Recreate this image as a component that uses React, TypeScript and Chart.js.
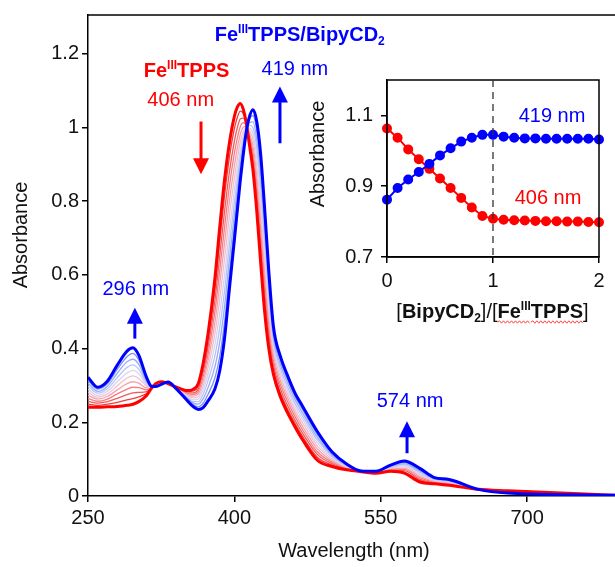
import React, { useEffect, useRef } from "react";
import { Chart, registerables } from "chart.js";
Chart.register(...registerables);

// ---------- Main spectra (absorbance vs wavelength) ----------
const WAVELENGTH = [
  250, 260, 270, 280, 290, 296, 302, 310, 315,
  320, 325, 332, 340, 352, 358, 363, 368, 373,
  380, 385, 390, 395, 400, 403, 406, 409, 412, 415,
  419, 423, 427, 431, 435, 440, 447, 454, 462, 470,
  485, 500, 515, 530, 545, 560, 574, 590, 605, 620,
  650, 680, 790,
];

// [BipyCD2]/[FeIIITPPS] = 0 (FeIIITPPS alone)
const SPEC_00 = [
  0.241, 0.241, 0.242, 0.243, 0.246, 0.249, 0.256, 0.273, 0.292,
  0.306, 0.310, 0.305, 0.296, 0.286, 0.290, 0.305, 0.360, 0.440,
  0.590, 0.730, 0.860, 0.960, 1.030, 1.055, 1.065, 1.050, 1.015, 0.960,
  0.885, 0.770, 0.630, 0.500, 0.405, 0.330, 0.270, 0.228, 0.188, 0.152,
  0.097, 0.080, 0.071, 0.066, 0.062, 0.067, 0.062, 0.038, 0.033, 0.029,
  0.018, 0.014, 0.002,
];
const SPEC_01 = [
  0.249, 0.246, 0.249, 0.254, 0.261, 0.264, 0.269, 0.278, 0.293,
  0.305, 0.309, 0.305, 0.296, 0.283, 0.285, 0.298, 0.348, 0.422,
  0.560, 0.691, 0.817, 0.921, 0.997, 1.027, 1.044, 1.038, 1.012, 0.967,
  0.901, 0.795, 0.660, 0.528, 0.427, 0.343, 0.281, 0.238, 0.197, 0.161,
  0.105, 0.084, 0.073, 0.066, 0.063, 0.069, 0.065, 0.042, 0.035, 0.031,
  0.018, 0.013, 0.002,
];
const SPEC_02 = [
  0.257, 0.252, 0.256, 0.265, 0.275, 0.280, 0.281, 0.283, 0.293,
  0.304, 0.309, 0.306, 0.295, 0.280, 0.280, 0.291, 0.336, 0.404,
  0.530, 0.652, 0.774, 0.881, 0.963, 0.999, 1.023, 1.025, 1.009, 0.973,
  0.918, 0.819, 0.689, 0.556, 0.448, 0.356, 0.292, 0.248, 0.206, 0.170,
  0.113, 0.088, 0.074, 0.066, 0.063, 0.070, 0.069, 0.045, 0.036, 0.032,
  0.018, 0.013, 0.002,
];
const SPEC_03 = [
  0.265, 0.257, 0.263, 0.277, 0.290, 0.295, 0.294, 0.288, 0.294,
  0.303, 0.308, 0.306, 0.295, 0.278, 0.276, 0.284, 0.324, 0.385,
  0.500, 0.613, 0.731, 0.842, 0.930, 0.971, 1.002, 1.013, 1.006, 0.980,
  0.934, 0.844, 0.719, 0.584, 0.470, 0.369, 0.303, 0.259, 0.216, 0.179,
  0.120, 0.092, 0.076, 0.067, 0.064, 0.072, 0.072, 0.049, 0.038, 0.034,
  0.018, 0.012, 0.002,
];
const SPEC_04 = [
  0.273, 0.263, 0.270, 0.288, 0.305, 0.310, 0.306, 0.293, 0.294,
  0.302, 0.307, 0.307, 0.294, 0.275, 0.271, 0.277, 0.312, 0.367,
  0.470, 0.574, 0.688, 0.802, 0.896, 0.943, 0.981, 1.000, 1.003, 0.986,
  0.950, 0.868, 0.748, 0.612, 0.491, 0.382, 0.314, 0.269, 0.225, 0.188,
  0.128, 0.096, 0.077, 0.067, 0.064, 0.074, 0.075, 0.053, 0.040, 0.035,
  0.018, 0.012, 0.002,
];
const SPEC_05 = [
  0.282, 0.268, 0.277, 0.299, 0.320, 0.326, 0.319, 0.298, 0.295,
  0.302, 0.307, 0.307, 0.294, 0.272, 0.266, 0.270, 0.300, 0.349,
  0.440, 0.535, 0.645, 0.763, 0.863, 0.915, 0.960, 0.988, 1.000, 0.993,
  0.967, 0.893, 0.778, 0.640, 0.513, 0.395, 0.325, 0.279, 0.234, 0.198,
  0.136, 0.100, 0.079, 0.067, 0.065, 0.076, 0.079, 0.057, 0.042, 0.037,
  0.018, 0.011, 0.002,
];
const SPEC_06 = [
  0.290, 0.273, 0.284, 0.310, 0.334, 0.341, 0.332, 0.302, 0.296,
  0.301, 0.306, 0.307, 0.294, 0.269, 0.261, 0.263, 0.288, 0.331,
  0.410, 0.496, 0.602, 0.723, 0.829, 0.887, 0.939, 0.975, 0.997, 0.999,
  0.983, 0.917, 0.807, 0.668, 0.534, 0.408, 0.336, 0.289, 0.243, 0.207,
  0.144, 0.104, 0.081, 0.067, 0.065, 0.077, 0.082, 0.060, 0.043, 0.039,
  0.018, 0.010, 0.002,
];
const SPEC_07 = [
  0.298, 0.279, 0.291, 0.321, 0.349, 0.356, 0.344, 0.307, 0.296,
  0.300, 0.305, 0.308, 0.293, 0.266, 0.256, 0.256, 0.276, 0.313,
  0.380, 0.457, 0.559, 0.684, 0.796, 0.859, 0.918, 0.963, 0.994, 1.006,
  0.999, 0.942, 0.837, 0.696, 0.556, 0.421, 0.347, 0.299, 0.252, 0.216,
  0.152, 0.108, 0.082, 0.067, 0.066, 0.079, 0.085, 0.064, 0.045, 0.040,
  0.018, 0.010, 0.002,
];
const SPEC_08 = [
  0.306, 0.284, 0.298, 0.333, 0.364, 0.371, 0.357, 0.312, 0.297,
  0.299, 0.304, 0.308, 0.293, 0.264, 0.252, 0.249, 0.264, 0.294,
  0.350, 0.418, 0.516, 0.644, 0.762, 0.831, 0.897, 0.950, 0.991, 1.012,
  1.015, 0.966, 0.866, 0.724, 0.577, 0.434, 0.358, 0.310, 0.262, 0.225,
  0.159, 0.112, 0.084, 0.068, 0.066, 0.081, 0.088, 0.068, 0.047, 0.042,
  0.018, 0.009, 0.002,
];
const SPEC_09 = [
  0.314, 0.290, 0.305, 0.344, 0.378, 0.387, 0.369, 0.317, 0.297,
  0.298, 0.304, 0.309, 0.292, 0.261, 0.247, 0.242, 0.252, 0.276,
  0.320, 0.379, 0.473, 0.605, 0.729, 0.803, 0.876, 0.938, 0.988, 1.019,
  1.032, 0.991, 0.896, 0.752, 0.599, 0.447, 0.369, 0.320, 0.271, 0.234,
  0.167, 0.116, 0.085, 0.068, 0.067, 0.082, 0.092, 0.071, 0.048, 0.043,
  0.018, 0.009, 0.002,
];
// FeIIITPPS/BipyCD2 (final)
const SPEC_END = [
  0.322, 0.295, 0.312, 0.355, 0.393, 0.402, 0.382, 0.322, 0.298,
  0.297, 0.303, 0.309, 0.292, 0.258, 0.242, 0.235, 0.240, 0.258,
  0.290, 0.340, 0.430, 0.565, 0.695, 0.775, 0.855, 0.925, 0.985, 1.025,
  1.048, 1.015, 0.925, 0.780, 0.620, 0.460, 0.380, 0.330, 0.280, 0.243,
  0.175, 0.120, 0.087, 0.068, 0.067, 0.084, 0.095, 0.075, 0.050, 0.045,
  0.018, 0.008, 0.002,
];

const X_TICKS = [250, 400, 550, 700];
const Y_TICKS = [0, 0.2, 0.4, 0.6, 0.8, 1, 1.2];

// ---------- Inset (titration curves) ----------
const RATIO = [0, 0.1, 0.2, 0.3, 0.4, 0.5, 0.6, 0.7, 0.8, 0.9, 1.0, 1.1, 1.2, 1.3, 1.4, 1.5, 1.6, 1.7, 1.8, 1.9, 2.0];
const ABS_419 = [0.862, 0.895, 0.919, 0.940, 0.963, 0.987, 1.007, 1.026, 1.037, 1.045, 1.045, 1.040, 1.037, 1.035, 1.035, 1.034, 1.034, 1.034, 1.034, 1.034, 1.032];
const ABS_406 = [1.063, 1.037, 1.004, 0.976, 0.949, 0.922, 0.895, 0.867, 0.840, 0.816, 0.808, 0.805, 0.804, 0.803, 0.802, 0.801, 0.801, 0.800, 0.800, 0.799, 0.798];
const INSET_X_TICKS = [0, 1, 2];
const INSET_Y_TICKS = [0.7, 0.9, 1.1];
const EQUIV_POINT = 1;

// ---------- styles ----------
const FONT = '"Liberation Sans", Arial, Helvetica, sans-serif';
const RED = "#ff0000";
const BLUE = "#0000ff";
const THIN_COLORS = ["#f03c3c", "#f25a5a", "#f47c84", "#f5a0ab", "#f0c0cc", "#d8d4f0", "#b8c4f8", "#98acf8", "#7890f4"];

type Seg = { t: string; b?: boolean; s?: "sup" | "sub" };

function drawRich(ctx: CanvasRenderingContext2D, segs: Seg[], cx: number, baseline: number, size: number, color: string) {
  const fontOf = (g: Seg) => `${g.b ? "bold " : ""}${g.s ? Math.round(size * 0.6) : size}px ${FONT}`;
  const widths = segs.map((g) => { ctx.font = fontOf(g); return ctx.measureText(g.t).width; });
  const total = widths.reduce((a, b) => a + b, 0);
  let xx = cx - total / 2;
  const ranges: [number, number][] = [];
  ctx.fillStyle = color;
  ctx.textAlign = "left";
  ctx.textBaseline = "alphabetic";
  segs.forEach((g, i) => {
    ctx.font = fontOf(g);
    const dy = g.s === "sup" ? -size * 0.38 : g.s === "sub" ? size * 0.22 : 0;
    ctx.fillText(g.t, xx, baseline + dy);
    ranges.push([xx, xx + widths[i]]);
    xx += widths[i];
  });
  return ranges;
}

function wavy(ctx: CanvasRenderingContext2D, x0: number, x1: number, y: number) {
  ctx.save();
  ctx.strokeStyle = "#ff3030";
  ctx.lineWidth = 0.9;
  ctx.beginPath();
  let up = true;
  ctx.moveTo(x0, y);
  for (let p = x0 + 2; p <= x1; p += 2) {
    ctx.lineTo(p, up ? y - 1.2 : y + 1.2);
    up = !up;
  }
  ctx.stroke();
  ctx.restore();
}

const mainDecor = {
  id: "mainDecor",
  afterDraw(chart: any) {
    const { ctx, chartArea: a, scales } = chart;
    const x = scales.x, y = scales.y;
    ctx.save();
    ctx.strokeStyle = "#000";
    ctx.lineWidth = 1.5;
    ctx.beginPath();
    ctx.moveTo(a.left, a.top);
    ctx.lineTo(a.right + 2, a.top);
    ctx.stroke();

    const arrow = (lam: number, a0: number, a1: number, color: string) => {
      const px = x.getPixelForValue(lam);
      const y0 = y.getPixelForValue(a0);
      const y1 = y.getPixelForValue(a1);
      const dir = Math.sign(y1 - y0);
      const head = 16, hw = 8;
      ctx.strokeStyle = color;
      ctx.fillStyle = color;
      ctx.lineWidth = 3;
      ctx.beginPath();
      ctx.moveTo(px, y0);
      ctx.lineTo(px, y1 - dir * head + dir);
      ctx.stroke();
      ctx.beginPath();
      ctx.moveTo(px, y1);
      ctx.lineTo(px - hw, y1 - dir * head);
      ctx.lineTo(px + hw, y1 - dir * head);
      ctx.closePath();
      ctx.fill();
    };
    arrow(365.8, 1.016, 0.873, RED);
    arrow(446.7, 0.957, 1.111, BLUE);
    arrow(298, 0.427, 0.511, BLUE);
    arrow(576.9, 0.116, 0.203, BLUE);

    drawRich(ctx, [{ t: "Fe", b: true }, { t: "III", b: true, s: "sup" }, { t: "TPPS/BipyCD", b: true }, { t: "2", b: true, s: "sub" }],
      x.getPixelForValue(467), y.getPixelForValue(1.235), 20, BLUE);
    drawRich(ctx, [{ t: "Fe", b: true }, { t: "III", b: true, s: "sup" }, { t: "TPPS", b: true }],
      x.getPixelForValue(351), y.getPixelForValue(1.138), 20, RED);
    drawRich(ctx, [{ t: "406 nm" }], x.getPixelForValue(345), y.getPixelForValue(1.057), 20, RED);
    drawRich(ctx, [{ t: "419 nm" }], x.getPixelForValue(462), y.getPixelForValue(1.143), 20, BLUE);
    drawRich(ctx, [{ t: "296 nm" }], x.getPixelForValue(299), y.getPixelForValue(0.546), 20, BLUE);
    drawRich(ctx, [{ t: "574 nm" }], x.getPixelForValue(580), y.getPixelForValue(0.241), 20, BLUE);

    // axis titles
    ctx.fillStyle = "#111";
    ctx.font = `20px ${FONT}`;
    ctx.textAlign = "center";
    ctx.textBaseline = "middle";
    ctx.fillText("Wavelength (nm)", 354, 551);
    ctx.save();
    ctx.translate(21, 235);
    ctx.rotate(-Math.PI / 2);
    ctx.fillText("Absorbance", 0, 0);
    ctx.restore();
    ctx.restore();
  },
};

const insetDecor = {
  id: "insetDecor",
  afterDraw(chart: any) {
    const { ctx, chartArea: a, scales } = chart;
    const x = scales.x, y = scales.y;
    ctx.save();
    ctx.strokeStyle = "#000";
    ctx.lineWidth = 1.5;
    ctx.strokeRect(a.left, a.top, a.right - a.left, a.bottom - a.top);
    // dashed equivalence line
    const px = x.getPixelForValue(EQUIV_POINT);
    ctx.strokeStyle = "#333";
    ctx.lineWidth = 1.3;
    ctx.setLineDash([7, 5]);
    ctx.beginPath();
    ctx.moveTo(px, a.top);
    ctx.lineTo(px, a.bottom);
    ctx.stroke();
    ctx.setLineDash([]);

    drawRich(ctx, [{ t: "419 nm" }], x.getPixelForValue(1.557), y.getPixelForValue(1.082), 20, BLUE);
    drawRich(ctx, [{ t: "406 nm" }], x.getPixelForValue(1.519), y.getPixelForValue(0.85), 20, RED);

    const r = drawRich(ctx, [
      { t: "[" }, { t: "BipyCD", b: true }, { t: "2", b: true, s: "sub" }, { t: "]/[" },
      { t: "Fe", b: true }, { t: "III", b: true, s: "sup" }, { t: "TPPS", b: true }, { t: "]" },
    ], 192.5, 258, 20, "#111");
    wavy(ctx, r[4][0], r[5][1], 262);
    wavy(ctx, r[6][0], r[6][1], 262);

    ctx.fillStyle = "#111";
    ctx.font = `20px ${FONT}`;
    ctx.textAlign = "center";
    ctx.textBaseline = "middle";
    ctx.save();
    ctx.translate(18, 94);
    ctx.rotate(-Math.PI / 2);
    ctx.fillText("Absorbance", 0, 0);
    ctx.restore();
    ctx.restore();
  },
};

const toXY = (arr: number[]) => WAVELENGTH.map((w, i) => ({ x: w, y: arr[i] }));

export default function App() {
  const mainRef = useRef<HTMLCanvasElement>(null);
  const insetRef = useRef<HTMLCanvasElement>(null);

  useEffect(() => {
    const thin = [SPEC_09, SPEC_08, SPEC_07, SPEC_06, SPEC_05, SPEC_04, SPEC_03, SPEC_02, SPEC_01];
    const thinColors = [...THIN_COLORS].reverse();
    const common = {
      pointRadius: 0,
      fill: false,
      cubicInterpolationMode: "monotone" as const,
    };
    const datasets: any[] = [
      { ...common, label: "FeIIITPPS/BipyCD2", data: toXY(SPEC_END), borderColor: BLUE, borderWidth: 3 },
      { ...common, label: "FeIIITPPS", data: toXY(SPEC_00), borderColor: RED, borderWidth: 3 },
      ...thin.map((arr, i) => ({ ...common, label: `step ${9 - i}`, data: toXY(arr), borderColor: thinColors[i], borderWidth: 1.3 })),
    ];

    const tickFont = { family: FONT, size: 20 };
    const main = new Chart(mainRef.current as HTMLCanvasElement, {
      type: "line",
      data: { datasets },
      options: {
        animation: false,
        responsive: false,
        devicePixelRatio: 1,
        layout: { padding: { top: 13, left: 0, right: 0, bottom: 0 } },
        plugins: { legend: { display: false }, tooltip: { enabled: false } },
        scales: {
          x: {
            type: "linear",
            min: 250,
            max: 790,
            afterBuildTicks: (s: any) => { s.ticks = X_TICKS.map((v) => ({ value: v })); },
            afterFit: (s: any) => { s.height = 71; },
            ticks: { font: tickFont, color: "#111", padding: 4, maxRotation: 0, callback: (v: any) => String(v) },
            grid: { drawOnChartArea: false, drawTicks: true, tickLength: 6, color: "#000", lineWidth: 1.5 },
            border: { display: true, color: "#000", width: 1.5 },
          },
          y: {
            type: "linear",
            min: 0,
            max: 1.305,
            afterBuildTicks: (s: any) => { s.ticks = Y_TICKS.map((v) => ({ value: v })); },
            afterFit: (s: any) => { s.width = 88; },
            ticks: { font: tickFont, color: "#111", padding: 3, callback: (v: any) => String(v) },
            grid: { drawOnChartArea: false, drawTicks: true, tickLength: 6, color: "#000", lineWidth: 1.5 },
            border: { display: true, color: "#000", width: 1.5 },
          },
        },
      } as any,
      plugins: [mainDecor],
    });

    const inset = new Chart(insetRef.current as HTMLCanvasElement, {
      type: "line",
      data: {
        datasets: [
          {
            label: "419 nm",
            data: RATIO.map((r, i) => ({ x: r, y: ABS_419[i] })),
            borderColor: BLUE, backgroundColor: BLUE, pointBackgroundColor: BLUE, pointBorderColor: BLUE,
            borderWidth: 2, pointRadius: 4, tension: 0, clip: false,
          },
          {
            label: "406 nm",
            data: RATIO.map((r, i) => ({ x: r, y: ABS_406[i] })),
            borderColor: RED, backgroundColor: RED, pointBackgroundColor: RED, pointBorderColor: RED,
            borderWidth: 2, pointRadius: 4, tension: 0, clip: false,
          },
        ],
      },
      options: {
        animation: false,
        responsive: false,
        devicePixelRatio: 1,
        layout: { padding: { top: 15, left: 0, right: 16, bottom: 0 } },
        plugins: { legend: { display: false }, tooltip: { enabled: false } },
        scales: {
          x: {
            type: "linear",
            min: 0,
            max: 2,
            afterBuildTicks: (s: any) => { s.ticks = INSET_X_TICKS.map((v) => ({ value: v })); },
            afterFit: (s: any) => { s.height = 73; },
            ticks: { font: tickFont, color: "#111", padding: 6, maxRotation: 0, callback: (v: any) => String(v) },
            grid: { drawOnChartArea: false, drawTicks: true, tickLength: 6, color: "#000", lineWidth: 1.5 },
            border: { display: true, color: "#000", width: 1.5 },
          },
          y: {
            type: "linear",
            min: 0.7,
            max: 1.2,
            afterBuildTicks: (s: any) => { s.ticks = INSET_Y_TICKS.map((v) => ({ value: v })); },
            afterFit: (s: any) => { s.width = 87; },
            ticks: { font: tickFont, color: "#111", padding: 8, callback: (v: any) => Number(v).toFixed(1) },
            grid: { drawOnChartArea: false, drawTicks: true, tickLength: 6, color: "#000", lineWidth: 1.5 },
            border: { display: true, color: "#000", width: 1.5 },
          },
        },
      } as any,
      plugins: [insetDecor],
    });

    return () => {
      main.destroy();
      inset.destroy();
    };
  }, []);

  return (
    <div style={{ position: "absolute", left: 0, top: 0, width: 615, height: 567, background: "#fff", overflow: "hidden" }}>
      <canvas ref={mainRef} width={615} height={567} style={{ position: "absolute", left: 0, top: 0, width: 615, height: 567 }} />
      <canvas ref={insetRef} width={315} height={270} style={{ position: "absolute", left: 300, top: 60, width: 315, height: 270 }} />
    </div>
  );
}
